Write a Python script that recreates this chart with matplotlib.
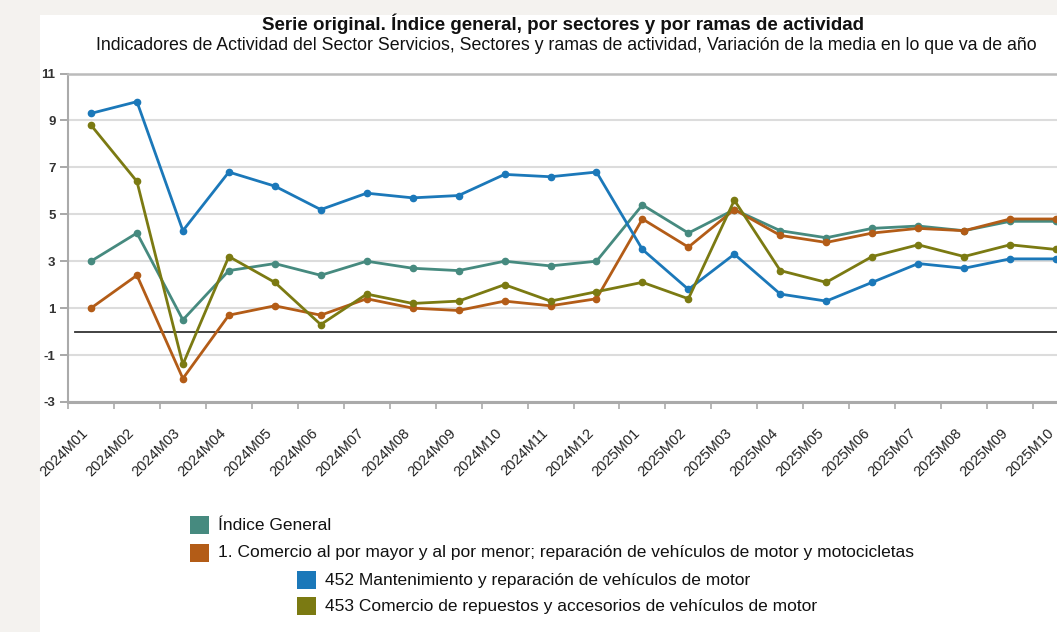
import matplotlib
matplotlib.use("Agg")
import matplotlib.pyplot as plt
import matplotlib.transforms as mtransforms
from matplotlib.patches import Rectangle

plt.rcParams['font.family'] = ['Liberation Sans', 'DejaVu Sans']

# Data
periods = ["2024M01", "2024M02", "2024M03", "2024M04", "2024M05", "2024M06",
           "2024M07", "2024M08", "2024M09", "2024M10", "2024M11", "2024M12",
           "2025M01", "2025M02", "2025M03", "2025M04", "2025M05", "2025M06",
           "2025M07", "2025M08", "2025M09", "2025M10"]

indice_general = [3.0, 4.2, 0.5, 2.6, 2.9, 2.4, 3.0, 2.7, 2.6, 3.0, 2.8, 3.0,
                  5.4, 4.2, 5.2, 4.3, 4.0, 4.4, 4.5, 4.3, 4.7, 4.7]
comercio = [1.0, 2.4, -2.0, 0.7, 1.1, 0.7, 1.4, 1.0, 0.9, 1.3, 1.1, 1.4,
            4.8, 3.6, 5.2, 4.1, 3.8, 4.2, 4.4, 4.3, 4.8, 4.8]
mant_452 = [9.3, 9.8, 4.3, 6.8, 6.2, 5.2, 5.9, 5.7, 5.8, 6.7, 6.6, 6.8,
            3.5, 1.8, 3.3, 1.6, 1.3, 2.1, 2.9, 2.7, 3.1, 3.1]
repuestos_453 = [8.8, 6.4, -1.4, 3.2, 2.1, 0.3, 1.6, 1.2, 1.3, 2.0, 1.3, 1.7,
                 2.1, 1.4, 5.6, 2.6, 2.1, 3.2, 3.7, 3.2, 3.7, 3.5]

series_names = ["Índice General",
                "1. Comercio al por mayor y al por menor; reparación de vehículos de motor y motocicletas",
                "452 Mantenimiento y reparación de vehículos de motor",
                "453 Comercio de repuestos y accesorios de vehículos de motor"]
colors = ["#468a7f", "#b35c17", "#1b78b9", "#7b7a12"]
yticks = [-3, -1, 1, 3, 5, 7, 9, 11]

W, H = 1057, 632
fig = plt.figure(figsize=(W / 100, H / 100), dpi=100, facecolor="#f4f2ef")
# white card behind the chart
fig.patches.append(Rectangle((40 / W, 0), 1, 1 - 15 / H, transform=fig.transFigure,
                             facecolor="white", edgecolor="none", zorder=0))

ax = fig.add_axes([68 / W, 1 - 402 / H, (1079 - 68) / W, (402 - 73.5) / H])
ax.set_zorder(2)
ax.set_facecolor("white")

x = range(len(periods))
for vals, c in zip([indice_general, comercio, mant_452, repuestos_453], colors):
    ax.plot(x, vals, color=c, linewidth=2.0, marker="o", markersize=4.5, zorder=3)

ax.axhline(0, xmin=0.007, color="#333333", linewidth=1.3, zorder=2)

ax.set_ylim(-3, 11)
ax.set_xlim(-0.5, len(periods) - 0.5)
ax.set_yticks(yticks)
ax.set_yticklabels([str(v) for v in yticks], fontsize=9.5, fontweight="bold", color="#333333")
ax.grid(axis="y", color="#dcdcdc", linewidth=1.5, zorder=1)

ax.set_xticks(list(x))
ax.set_xticklabels(periods, rotation=45, ha="right", rotation_mode="anchor",
                   fontsize=10.5, color="#222222")
ax.set_xticks([i - 0.5 for i in x], minor=True)
ax.tick_params(axis="x", which="major", length=0, pad=17)
ax.tick_params(axis="x", which="minor", length=5, color="#aaaaaa", width=1.2)
ax.tick_params(axis="y", length=6, color="#999999", width=1.2, pad=3)

# nudge the slanted labels a little to the left so the last one fits
shift = mtransforms.ScaledTranslation(-7 / 72, 0, fig.dpi_scale_trans)
for lbl in ax.get_xticklabels():
    lbl.set_transform(lbl.get_transform() + shift)

ax.spines["right"].set_visible(False)
ax.spines["left"].set_color("#aaaaaa")
ax.spines["left"].set_linewidth(1.5)
ax.spines["bottom"].set_color("#aaaaaa")
ax.spines["bottom"].set_linewidth(2.2)
ax.spines["top"].set_color("#bbbbbb")
ax.spines["top"].set_linewidth(1.8)

fig.text(563 / W, 1 - 24 / H, "Serie original. Índice general, por sectores y por ramas de actividad",
         ha="center", va="center", fontsize=13.5, fontweight="bold", color="#111111")
fig.text(566 / W, 1 - 46 / H,
         "Indicadores de Actividad del Sector Servicios, Sectores y ramas de actividad, Variación de la media en lo que va de año",
         ha="center", va="center", fontsize=12.8, color="#111111")

# legend drawn by hand, like the reference layout
legend_rows = [(190, 525), (190, 553), (297, 580), (297, 606)]
for (lx, ly), name, c in zip(legend_rows, series_names, colors):
    fig.patches.append(Rectangle((lx / W, 1 - (ly + 9) / H), 19 / W, 18 / H,
                                 transform=fig.transFigure, facecolor=c, edgecolor="none"))
    fig.text((lx + 28) / W, 1 - ly / H, name, ha="left", va="center",
             fontsize=12.5, color="#111111")

fig.savefig("out.png", dpi=100, facecolor=fig.get_facecolor())
